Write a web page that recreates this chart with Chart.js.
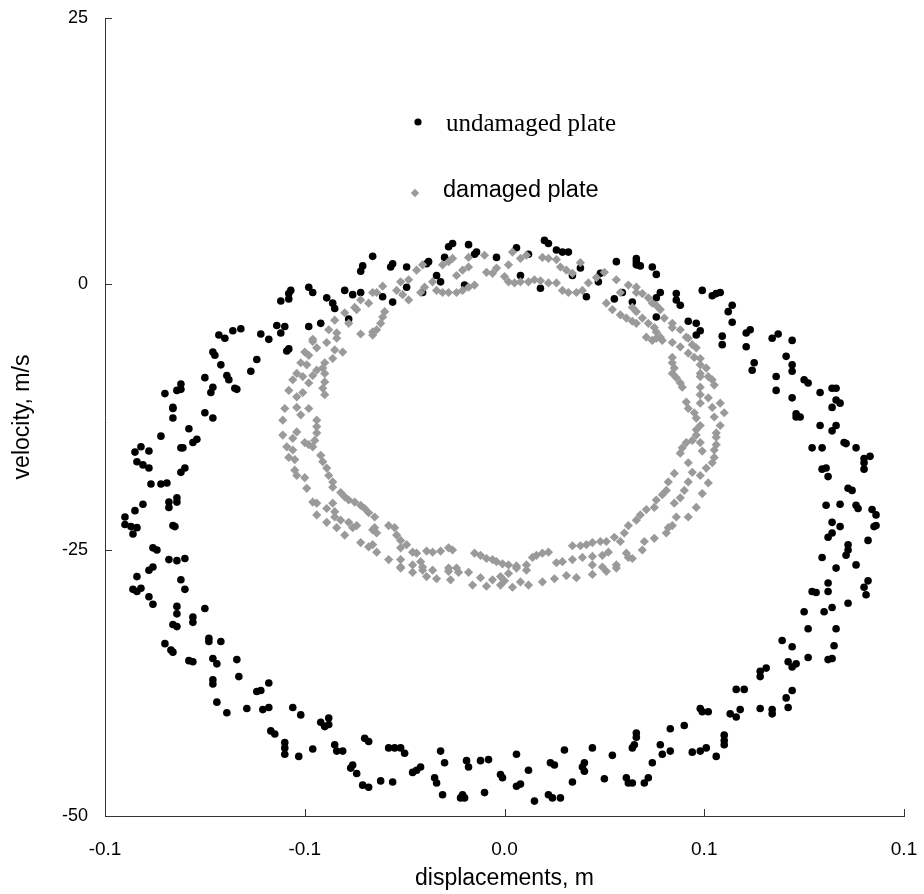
<!DOCTYPE html>
<html>
<head>
<meta charset="utf-8">
<title>Phase plot: undamaged vs damaged plate</title>
<script src="https://cdn.jsdelivr.net/npm/chart.js@4/dist/chart.umd.min.js"></script>
<style>
  html, body { margin: 0; padding: 0; background: #fff; }
  #wrap { width: 924px; height: 894px; }
</style>
</head>
<body>
<div id="wrap"><canvas id="phaseChart" width="924" height="894"></canvas></div>
<script>
// tick values and the labels printed under/next to them
const xTickValues = [-0.1, -0.05, 0, 0.05, 0.1];
const xTickLabels = ["-0.1", "-0.1", "0.0", "0.1", "0.1"];
const yTickValues = [-50, -25, 0, 25];
const yTickLabels = ["-50", "-25", "0", "25"];

const seriesNames = ["undamaged plate", "damaged plate"];

// undamaged plate: [displacement m, velocity m/s]
const undamagedPlate = [
  [-0.033,2.6],[-0.0355,1.7],[-0.036,1.2],[-0.049,-0.3],[-0.048,-0.8],[-0.0535,-0.6],[-0.054,-0.9],[-0.054,-1.4],[-0.056,-1.6],
  [-0.0445,-1.3],[-0.043,-1.8],[-0.0425,-2.3],[-0.040,-0.6],[-0.038,-1.0],[-0.036,-0.8],[-0.039,-3.3],[-0.057,-3.9],[-0.055,-4.0],
  [-0.049,-4.0],[-0.046,-3.7],[-0.066,-4.2],[-0.068,-4.4],[-0.0715,-4.8],[-0.070,-5.1],[-0.061,-4.7],[-0.059,-5.2],[-0.056,-4.6],
  [-0.028,1.9],[-0.0285,1.6],[-0.0245,1.6],[-0.019,2.1],[-0.0195,1.9],[-0.015,2.5],[-0.013,3.8],[-0.014,3.5],[-0.009,3.7],
  [-0.007,3.0],[-0.0075,2.8],[-0.002,2.5],[0.010,4.1],[0.011,3.8],[0.013,3.2],[0.0145,3.0],[0.016,3.0],[0.003,3.4],
  [-0.017,0.8],[-0.016,0.2],[-0.0205,-0.8],[-0.0245,-0.3],[-0.010,-0.1],[-0.0305,-1.2],[-0.028,-1.7],[0.004,0.8],[0.006,2.8],
  [0.009,-0.4],[0.017,0.8],[0.019,1.5],[0.024,1.0],[0.0235,0.2],[0.0205,-1.2],[0.028,2.1],[0.033,2.4],[0.033,2.1],
  [0.0275,-1.4],[0.0295,-0.8],[0.032,-1.7],
  [0.033,1.8],[0.034,1.7],[0.037,1.6],[0.038,0.9],[0.039,-0.8],[0.038,-1.3],[0.038,-3.1],[0.043,-0.9],[0.043,-1.5],
  [0.044,-2.0],[0.0495,-0.6],[0.052,-1.1],[0.053,-0.9],[0.054,-0.8],[0.057,-2.0],[0.056,-2.6],[0.057,-3.6],[0.046,-3.5],
  [0.048,-3.7],[0.049,-4.4],[0.048,-4.8],[0.0545,-4.9],[0.0605,-4.6],[0.0615,-4.3],[0.067,-5.1],[0.0685,-4.7],[0.072,-5.3],
  [-0.054,-6.1],[-0.0545,-6.3],[-0.073,-6.4],[-0.0725,-6.7],[-0.071,-7.6],[-0.062,-7.1],[-0.0635,-8.2],[-0.0695,-8.6],[-0.069,-9.0],
  [-0.0675,-9.8],[-0.067,-9.9],[-0.075,-8.8],[-0.073,-9.7],[-0.0735,-10.2],[-0.081,-9.4],[-0.081,-9.9],[-0.082,-10.0],[-0.085,-10.3],
  [-0.083,-11.6],[-0.083,-11.7],[-0.083,-12.6],[-0.075,-12.1],[-0.073,-12.6],[-0.079,-13.6],[-0.077,-14.6],[-0.078,-14.9],[-0.086,-14.3],
  [-0.081,-15.4],[-0.0805,-15.4],[-0.091,-15.3],[-0.0925,-15.8],[-0.089,-15.7],[-0.092,-16.7],[-0.0905,-17.0],[-0.089,-17.3],[-0.080,-17.3],
  [-0.081,-17.7],[-0.0885,-18.8],[-0.086,-18.8],[-0.0845,-18.7],[-0.084,-20.5],[-0.084,-21.0],[-0.082,-20.1],[-0.082,-20.5],[-0.0905,-20.7],
  [-0.0925,-21.3],[-0.095,-21.9],[-0.095,-22.6],[-0.0935,-22.8],[-0.092,-22.9],[-0.093,-23.5],[-0.083,-22.7],[-0.0825,-22.8],[-0.088,-24.8],
  [-0.087,-25.0],[-0.084,-25.9],[-0.082,-26.0],[-0.080,-25.8],[-0.088,-26.6],
  [-0.089,-26.9],[-0.092,-27.5],[-0.093,-28.7],[-0.092,-28.9],[-0.091,-28.6],[-0.089,-29.4],[-0.088,-30.1],[-0.081,-27.8],[-0.080,-28.7],
  [-0.082,-30.3],[-0.082,-31.0],[-0.078,-31.3],[-0.078,-31.8],[-0.075,-30.5],[-0.083,-32.0],[-0.082,-32.2],[-0.085,-33.8],[-0.0835,-34.4],
  [-0.083,-34.6],[-0.074,-33.3],[-0.074,-33.6],[-0.071,-33.6],[-0.079,-35.4],[-0.078,-35.5],[-0.073,-35.2],[-0.072,-35.7],[-0.067,-35.3],
  [-0.0665,-36.9],[-0.073,-37.2],[-0.073,-37.6],[-0.059,-37.5],[-0.062,-38.3],[-0.061,-38.2],[-0.072,-39.3],[-0.0695,-40.3],[-0.0645,-39.9],
  [-0.0605,-40.0],[-0.059,-39.8],[-0.053,-39.8],[-0.051,-40.5],[-0.0585,-42.0],[-0.0575,-42.3],[-0.055,-43.1],[-0.055,-43.6],[-0.055,-44.2],
  [-0.0515,-44.4],[-0.048,-43.7],[-0.046,-41.2],[-0.045,-41.6],[-0.044,-41.4],[-0.044,-40.8],[-0.0425,-43.3],[-0.042,-43.9],[-0.0405,-43.9],
  [-0.035,-42.7],[-0.034,-43.0],[-0.038,-45.2],[-0.0385,-45.5],[-0.037,-46.0],[-0.0355,-47.1],[-0.034,-47.3],
  [-0.029,-43.6],[-0.0275,-43.6],[-0.026,-43.6],[-0.025,-44.1],[-0.016,-43.9],[-0.015,-45.0],[-0.021,-45.4],[-0.022,-45.7],[-0.023,-45.9],
  [-0.031,-46.7],[-0.028,-46.8],[-0.0175,-46.4],[-0.017,-46.9],[-0.0155,-48.0],[-0.011,-48.3],[-0.0105,-48.0],[-0.010,-48.3],[-0.0095,-44.8],
  [-0.009,-45.4],[-0.006,-44.8],[-0.004,-44.7],[-0.005,-47.8],[-0.001,-46.1],[-0.0005,-46.4],[0.003,-44.2],[0.006,-45.7],[0.003,-47.2],
  [0.004,-47.0],[0.0075,-48.6],[0.011,-48.0],[0.012,-48.3],[0.014,-48.3],[0.0115,-45.0],[0.0125,-45.2],[0.015,-43.8],[0.017,-46.8],
  [0.020,-45.0],[0.0195,-45.4],[0.020,-45.8],[0.022,-43.6],[0.025,-46.5],[0.027,-44.3],[0.0305,-46.4],[0.031,-46.9],[0.032,-46.9],
  [0.032,-43.6],[0.033,-42.2],[0.033,-42.6],
  [0.083,-26.7],[0.088,-26.4],[0.081,-28.1],[0.081,-28.9],[0.077,-28.9],[0.078,-29.0],[0.091,-27.9],[0.090,-28.5],[0.0905,-29.2],
  [0.086,-30.0],[0.082,-30.4],[0.080,-30.8],[0.075,-30.8],[0.083,-32.4],[0.076,-32.4],[0.0695,-33.5],[0.072,-34.1],[0.0825,-34.0],
  [0.076,-35.1],[0.081,-35.3],[0.082,-35.2],[0.071,-35.5],[0.072,-36.0],[0.073,-35.7],[0.0655,-36.1],[0.064,-36.4],[0.064,-36.9],
  [0.058,-38.1],[0.060,-38.1],[0.072,-38.2],[0.0705,-38.9],[0.071,-39.8],[0.064,-39.9],[0.067,-40.0],[0.067,-40.4],[0.059,-40.0],
  [0.0565,-40.4],[0.058,-40.7],[0.049,-39.9],[0.0495,-40.2],[0.051,-40.2],[0.045,-41.5],[0.0415,-41.8],[0.055,-42.4],[0.055,-42.9],
  [0.055,-43.3],[0.039,-43.3],[0.0395,-44.2],[0.0415,-43.9],[0.047,-44.0],[0.049,-43.9],[0.0505,-43.6],[0.053,-44.4],[0.0325,-43.3],
  [0.037,-45.0],[0.036,-46.4],[0.035,-46.9],
  [0.0545,-5.7],[0.0605,-5.9],[0.0705,-6.8],[0.0625,-7.4],[0.062,-8.1],[0.072,-7.6],[0.072,-8.2],[0.068,-8.7],[0.075,-9.0],
  [0.076,-9.3],[0.068,-10.0],[0.079,-10.2],[0.082,-9.8],[0.083,-9.8],[0.072,-10.7],[0.083,-10.9],[0.084,-11.2],[0.082,-11.6],
  [0.073,-12.2],[0.073,-12.5],[0.074,-12.5],[0.079,-13.3],[0.083,-13.3],[0.082,-13.8],[0.085,-14.9],[0.0855,-15.0],[0.088,-15.4],
  [0.077,-15.4],[0.0795,-15.4],[0.0915,-16.2],[0.090,-16.4],[0.090,-16.8],[0.090,-17.4],[0.0795,-17.4],[0.0805,-17.3],[0.081,-18.1],
  [0.086,-19.2],[0.087,-19.4],[0.0805,-20.8],[0.084,-20.7],[0.088,-20.8],[0.0885,-21.1],[0.092,-21.2],[0.093,-21.7],[0.093,-22.7],
  [0.0925,-22.8],[0.082,-22.4],[0.084,-22.8],[0.082,-23.4],[0.081,-23.8],[0.091,-24.1],[0.086,-24.5],[0.086,-25.0],[0.0855,-25.5],
  [0.0795,-25.7]
];

// damaged plate: [displacement m, velocity m/s]
const damagedPlate = [
  [-0.033,-0.8],[-0.036,-1.5],[-0.034,-1.8],[-0.0375,-2.2],[-0.037,-2.4],[-0.040,-2.7],[-0.039,-3.7],[-0.0425,-3.4],[-0.042,-4.6],
  [-0.044,-4.3],[-0.036,-4.7],[-0.033,-4.5],[-0.048,-5.2],
  [-0.032,-0.8],[-0.0305,-0.2],[-0.030,-2.6],[-0.0305,-3.1],[-0.031,-3.7],[-0.032,-4.3],[-0.033,-4.8],[-0.026,0.2],[-0.027,-0.6],
  [-0.0255,-1.0],[-0.024,-1.5],[-0.024,0.4],[-0.022,1.3],[-0.0205,1.8],[-0.021,-0.8],[-0.020,-0.3],[-0.018,0.2],[-0.017,-0.6],
  [-0.0155,-0.8],[-0.014,-0.8],[-0.012,-0.8],[-0.0105,-0.6],[-0.009,-0.3],[-0.0075,-0.1],[-0.0155,1.8],[-0.014,2.1],[-0.013,2.4],
  [-0.012,0.8],[-0.0105,1.3],[-0.009,1.6],[-0.009,2.5],[-0.005,2.7],[-0.0045,1.1],[-0.003,1.0],[-0.002,1.5],[0.0,0.7],
  [0.001,0.2],[0.0025,0.1],[0.004,0.2],[0.006,0.2],[0.0075,0.4],[0.009,0.3],[0.011,0.1],[0.013,0.1],[0.0145,-0.6],
  [0.016,-0.8],[0.018,-0.8],[0.0195,-0.6],[0.002,3.0],[0.001,1.8],[0.004,2.4],[0.0055,2.7],[0.0095,2.5],[0.011,2.4],
  [0.013,2.3],[0.014,1.6],[0.0155,1.3],[0.017,1.0],[0.019,2.0],[0.021,0.1],[0.023,0.6],[0.025,1.1],[0.028,0.4],
  [0.0255,-1.8],[0.027,-2.4],[0.029,-2.9],[0.0305,-3.2],[0.032,-3.5],[0.033,-3.7],[0.031,-0.1],[0.033,-0.3],[0.029,-0.8],
  [0.033,-0.8],[0.0345,-0.9],[0.036,-1.3],[0.037,-1.8],[0.038,-2.0],[0.032,-2.2],[0.033,-2.6],[0.0345,-3.2],[0.036,-3.7],
  [0.0375,-4.1],[0.038,-4.5],[0.039,-5.0],[0.040,-3.2],[0.042,-3.7],[0.042,-4.1],[0.044,-4.3],[0.0455,-5.0],[0.039,-2.4],
  [0.0355,-5.0],[0.037,-5.3],
  [-0.048,-5.4],[-0.047,-6.0],[-0.0445,-5.5],[-0.042,-5.1],[-0.0425,-6.2],[-0.0405,-6.4],[-0.050,-6.4],[-0.049,-6.7],[-0.051,-7.4],
  [-0.0495,-7.6],[-0.045,-7.4],[-0.043,-7.0],[-0.047,-8.1],[-0.0455,-7.9],[-0.052,-8.4],[-0.053,-9.0],[-0.0505,-8.7],[-0.048,-8.6],
  [-0.045,-8.4],[-0.045,-9.2],[-0.0455,-9.8],[-0.045,-10.4],[-0.054,-10.0],[-0.052,-10.6],[-0.0505,-10.2],[-0.049,-9.3],[-0.055,-11.7],
  [-0.052,-11.6],[-0.049,-11.7],[-0.0555,-12.8],[-0.051,-12.3],[-0.047,-12.8],[-0.047,-13.4],[-0.047,-14.0],[-0.0475,-14.7],[-0.048,-15.3],
  [-0.052,-13.9],[-0.0555,-14.2],[-0.053,-14.5],[-0.0545,-15.3],[-0.053,-15.6],[-0.050,-14.9],[-0.049,-15.1],[-0.054,-16.3],[-0.0525,-16.5],
  [-0.046,-16.1],[-0.0455,-16.7],[-0.0445,-17.3],[-0.044,-18.0],[-0.043,-18.6],[-0.043,-19.1],[-0.0525,-17.5],[-0.052,-18.0],[-0.050,-18.2],
  [-0.0495,-19.2],[-0.048,-20.5],[-0.047,-20.6],[-0.047,-21.7],[-0.0445,-21.1],[-0.043,-20.6],[-0.0425,-21.4],[-0.041,-19.6],[-0.040,-20.0],
  [-0.039,-20.3],[-0.0375,-20.5],[-0.036,-20.8],[-0.035,-21.1],[-0.034,-21.5],[-0.0325,-21.9],[-0.0445,-22.4],[-0.0425,-21.9],[-0.041,-22.2],
  [-0.039,-22.4],[-0.042,-22.9],[-0.040,-23.6],[-0.038,-22.9],[-0.037,-22.7],[-0.036,-24.3],[-0.034,-24.7],[-0.033,-23.1],
  [-0.0325,-22.9],[-0.032,-23.4],[-0.033,-24.5],[-0.032,-25.2],[-0.029,-22.7],[-0.0275,-22.9],[-0.027,-23.6],[-0.026,-24.1],[-0.026,-24.8],
  [-0.0245,-24.5],[-0.023,-25.2],[-0.022,-25.3],[-0.029,-25.9],[-0.026,-25.9],[-0.026,-26.6],[-0.0195,-25.1],[-0.018,-25.2],[-0.016,-25.1],
  [-0.014,-24.8],[-0.013,-25.0],[-0.023,-26.4],[-0.021,-26.1],[-0.0205,-26.6],[-0.014,-26.7],[-0.012,-26.7],[-0.0075,-25.3],[-0.006,-25.5],
  [-0.0045,-25.8],[-0.003,-25.9],[-0.002,-26.1],[-0.0005,-26.3],[0.001,-26.4],[0.003,-26.5],[0.0055,-26.4],[0.007,-25.7],[0.008,-25.5],
  [0.0095,-25.3],[0.011,-25.2],[0.013,-26.2],[0.0145,-26.1],[0.017,-24.6],[0.019,-24.6],[0.0205,-24.5],[0.022,-24.3],[0.024,-24.2],
  [0.0255,-24.2],[0.0275,-23.8],[0.029,-24.2],[0.030,-23.4],[0.031,-22.7],[0.033,-22.2],[0.017,-25.9],[0.0195,-25.7],[0.022,-25.6],
  [0.0245,-25.5],[0.026,-25.2],[0.022,-26.4],[0.0245,-26.6],[0.028,-26.4],[0.0305,-25.3],[0.032,-25.8],
  [0.038,-5.1],[0.0395,-5.3],[0.042,-5.5],[0.044,-5.9],[0.046,-5.1],[0.047,-5.7],[0.048,-6.0],[0.046,-6.5],[0.0475,-6.9],
  [0.049,-7.0],[0.042,-6.9],[0.042,-7.4],[0.0425,-7.9],[0.042,-8.4],[0.043,-8.8],[0.044,-9.3],[0.0445,-9.7],[0.049,-7.6],
  [0.0505,-7.9],[0.049,-8.4],[0.049,-8.7],[0.051,-8.7],[0.052,-9.0],[0.0525,-9.5],[0.049,-9.7],[0.049,-10.4],[0.051,-10.7],
  [0.049,-11.2],[0.052,-11.6],[0.054,-11.2],[0.055,-12.1],[0.0525,-12.5],[0.054,-13.3],[0.0455,-11.1],[0.046,-11.7],[0.0475,-12.1],
  [0.048,-12.6],[0.049,-13.3],[0.048,-13.7],[0.048,-14.2],[0.047,-14.7],[0.0455,-14.9],[0.0445,-15.4],[0.044,-15.9],[0.053,-14.0],
  [0.053,-14.4],[0.053,-15.1],[0.0525,-15.6],[0.0525,-16.3],[0.052,-16.8],[0.049,-14.9],[0.0495,-15.7],[0.0505,-17.3],[0.049,-18.0],
  [0.051,-18.7],[0.0495,-19.7],[0.046,-16.8],[0.047,-17.7],[0.046,-18.6],[0.045,-19.4],[0.044,-20.1],[0.0425,-20.6],[0.0425,-17.8],
  [0.041,-18.6],[0.0405,-19.4],[0.0395,-19.8],[0.038,-20.3],[0.0375,-21.0],[0.0355,-21.2],[0.034,-21.7],[0.048,-21.0],[0.046,-21.9],
  [0.043,-21.9],[0.042,-22.7],[0.041,-22.9],[0.0405,-23.4],[0.0375,-23.9],[0.035,-24.2],[0.0345,-25.0],[0.031,-25.7],
  [-0.026,-26.7],[-0.023,-27.1],[-0.0205,-26.9],[-0.0195,-27.5],[-0.018,-26.9],[-0.017,-27.7],[-0.014,-27.0],[-0.0135,-27.8],[-0.0115,-27.1],
  [-0.009,-27.1],[-0.008,-28.3],[-0.006,-27.6],[-0.0045,-28.4],[-0.003,-27.8],[-0.001,-27.5],[-0.001,-28.3],[0.0,-27.9],[0.001,-27.2],
  [0.002,-28.5],[0.003,-26.7],[0.004,-28.0],[0.0055,-26.9],[0.006,-28.3],[0.0095,-28.0],[0.0125,-27.7],[0.0155,-27.4],[0.018,-27.6],
  [0.022,-27.3],[0.0255,-27.0],[0.028,-26.7]
];

const AXIS_COLOR = "#333";
const BLACK = "#000";
const GRAY = "#9a9a9a";
const SANS = "'Liberation Sans', Arial, sans-serif";
const SERIF = "'Liberation Serif', 'Times New Roman', serif";

function toPoints(pairs) {
  return pairs.map(([x, y]) => ({ x, y }));
}

function drawDiamond(ctx, cx, cy, r) {
  ctx.beginPath();
  ctx.moveTo(cx, cy - r);
  ctx.lineTo(cx + r, cy);
  ctx.lineTo(cx, cy + r);
  ctx.lineTo(cx - r, cy);
  ctx.closePath();
  ctx.fill();
}

// inward tick marks on both axes
const insideTicks = {
  id: "insideTicks",
  afterDraw(chart) {
    const { ctx, scales: { x, y } } = chart;
    const len = 7;
    ctx.save();
    ctx.strokeStyle = AXIS_COLOR;
    ctx.lineWidth = 1;
    xTickValues.forEach((v) => {
      const px = Math.round(x.getPixelForValue(v)) + 0.5;
      ctx.beginPath();
      ctx.moveTo(px, y.bottom);
      ctx.lineTo(px, y.bottom - len);
      ctx.stroke();
    });
    yTickValues.forEach((v) => {
      const py = Math.round(y.getPixelForValue(v)) + 0.5;
      ctx.beginPath();
      ctx.moveTo(x.left, py);
      ctx.lineTo(x.left + len, py);
      ctx.stroke();
    });
    ctx.restore();
  },
};

// legend sits inside the plot, two rows, different fonts like the original
const innerLegend = {
  id: "innerLegend",
  afterDraw(chart) {
    const { ctx, chartArea } = chart;
    const mx = chartArea.left + 312;
    const tx = chartArea.left + 340;
    ctx.save();
    ctx.textBaseline = "alphabetic";
    ctx.textAlign = "left";

    ctx.fillStyle = BLACK;
    ctx.beginPath();
    ctx.arc(mx + 1, chartArea.top + 104, 3.6, 0, Math.PI * 2);
    ctx.fill();
    ctx.font = `25px ${SERIF}`;
    ctx.fillText(seriesNames[0], tx + 1, chartArea.top + 113);

    ctx.fillStyle = GRAY;
    drawDiamond(ctx, mx - 2, chartArea.top + 175, 4.2);
    ctx.fillStyle = BLACK;
    ctx.font = `23.5px ${SANS}`;
    ctx.fillText(seriesNames[1], tx - 2, chartArea.top + 179);
    ctx.restore();
  },
};

const ctx = document.getElementById("phaseChart");
new Chart(ctx, {
  type: "scatter",
  data: {
    datasets: [
      {
        label: seriesNames[1],
        data: toPoints(damagedPlate),
        pointStyle: "rectRot",
        pointRadius: 4.6,
        backgroundColor: GRAY,
        borderWidth: 0,
      },
      {
        label: seriesNames[0],
        data: toPoints(undamagedPlate),
        pointStyle: "circle",
        pointRadius: 3.8,
        backgroundColor: BLACK,
        borderWidth: 0,
      },
    ],
  },
  options: {
    responsive: false,
    devicePixelRatio: 1,
    animation: false,
    layout: { autoPadding: false, padding: { top: 18, right: 20, left: 0, bottom: 0 } },
    plugins: {
      legend: { display: false },
      tooltip: { enabled: false },
    },
    scales: {
      x: {
        type: "linear",
        min: -0.1,
        max: 0.1,
        afterBuildTicks: (scale) => {
          scale.ticks = xTickValues.map((v) => ({ value: v }));
        },
        afterFit: (scale) => {
          // fixed axis band; edge labels may overhang into the page margin
          scale.height = 78;
          scale.paddingLeft = 0;
          scale.paddingRight = 0;
        },
        ticks: {
          color: BLACK,
          font: { family: SANS, size: 19 },
          padding: 22,
          maxRotation: 0,
          callback: (value, index) => xTickLabels[index],
        },
        grid: { display: false, drawTicks: false },
        border: { display: true, color: AXIS_COLOR, width: 1 },
        title: {
          display: true,
          text: "displacements, m",
          color: BLACK,
          font: { family: SANS, size: 23 },
          padding: { top: 0, bottom: 2 },
        },
      },
      y: {
        type: "linear",
        min: -50,
        max: 25,
        afterBuildTicks: (scale) => {
          scale.ticks = yTickValues.map((v) => ({ value: v }));
        },
        afterFit: (scale) => {
          scale.width = 105;
          scale.paddingTop = 0;
          scale.paddingBottom = 0;
        },
        ticks: {
          color: BLACK,
          font: { family: SANS, size: 18 },
          padding: 17,
          callback: (value, index) => yTickLabels[index],
        },
        grid: { display: false, drawTicks: false },
        border: { display: true, color: AXIS_COLOR, width: 1 },
        title: {
          display: true,
          text: "velocity, m/s",
          color: BLACK,
          font: { family: SANS, size: 23 },
          padding: { top: 9, bottom: 0 },
        },
      },
    },
  },
  plugins: [insideTicks, innerLegend],
});
</script>
</body>
</html>
